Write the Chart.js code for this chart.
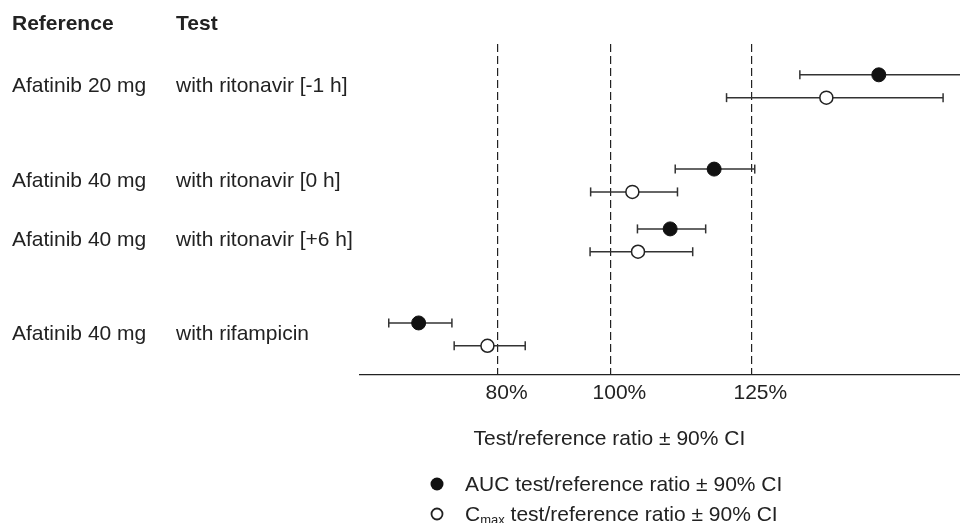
<!DOCTYPE html>
<html>
<head>
<meta charset="utf-8">
<script src="https://cdn.jsdelivr.net/npm/chart.js@4.4.1/dist/chart.umd.min.js"></script>
<style>
  body { margin: 0; background: #fff; }
  #wrap { width: 960px; height: 523px; }
</style>
</head>
<body>
<div id="wrap"><canvas id="chart" width="960" height="523"></canvas></div>
<script>
// values (percent, test/reference)
const refLabels = ['Afatinib 20 mg', 'Afatinib 40 mg', 'Afatinib 40 mg', 'Afatinib 40 mg'];
const testLabels = ['with ritonavir [-1 h]', 'with ritonavir [0 h]', 'with ritonavir [+6 h]', 'with rifampicin'];

const aucRatio = [147.6, 118.4, 110.6, 66.0];
const aucLower = [133.6, 111.5, 104.8, 60.7];
const aucUpper = [163.0, 125.6, 116.9, 71.9];

const cmaxRatio = [138.3, 103.9, 104.9, 78.2];
const cmaxLower = [120.6, 96.5, 96.4, 72.3];
const cmaxUpper = [159.0, 111.9, 114.6, 84.9];

const tickValues = [80, 100, 125];
const tickLabels = ['80%', '100%', '125%'];
const axisTitle = 'Test/reference ratio \u00b1 90% CI';

// vertical placement of the four comparisons (y axis units, top = 0)
const rowPos = [1.85, 5.98, 8.6, 12.72];
const pairGap = 0.5;

const FONT = "Arial, 'Liberation Sans', sans-serif";
const INK = '#222';

const datasets = [];

datasets.push({
  label: 'AUC',
  data: aucRatio.map((v, i) => ({x: v, y: rowPos[i] - pairGap})),
  pointRadius: 7,
  backgroundColor: '#111',
  borderColor: '#111',
  borderWidth: 1,
  order: 0
});
datasets.push({
  label: 'Cmax',
  data: cmaxRatio.map((v, i) => ({x: v, y: rowPos[i] + pairGap})),
  pointRadius: 6.5,
  backgroundColor: '#fff',
  borderColor: INK,
  borderWidth: 1.5,
  order: 0
});

function ciSet(lo, hi, y) {
  return {
    data: [{x: lo, y: y}, {x: hi, y: y}],
    showLine: true,
    borderColor: '#333',
    borderWidth: 1.5,
    pointStyle: 'line',
    pointRotation: 90,
    pointRadius: 4.5,
    pointBorderColor: '#333',
    pointBorderWidth: 1.5,
    order: 1
  };
}
for (let i = 0; i < rowPos.length; i++) {
  datasets.push(ciSet(aucLower[i], aucUpper[i], rowPos[i] - pairGap));
  datasets.push(ciSet(cmaxLower[i], cmaxUpper[i], rowPos[i] + pairGap));
}

const textPlugin = {
  id: 'forestText',
  afterDraw(chart) {
    const ctx = chart.ctx;
    const y = chart.scales.y;
    const x100 = chart.scales.x.getPixelForValue(100);
    ctx.save();
    ctx.fillStyle = INK;
    ctx.textBaseline = 'alphabetic';
    ctx.textAlign = 'left';

    ctx.font = 'bold 21px ' + FONT;
    ctx.fillText('Reference', 12, 30);
    ctx.fillText('Test', 176, 30);

    ctx.font = '21px ' + FONT;
    for (let i = 0; i < rowPos.length; i++) {
      const py = y.getPixelForValue(rowPos[i]) + 6;
      ctx.fillText(refLabels[i], 12, py);
      ctx.fillText(testLabels[i], 176, py);
    }

    // axis title, centred under the 100% line
    ctx.textAlign = 'center';
    ctx.fillText(axisTitle, x100 - 1, 445);
    ctx.textAlign = 'left';

    // legend
    ctx.beginPath();
    ctx.arc(437, 484, 6.5, 0, Math.PI * 2);
    ctx.fillStyle = '#111';
    ctx.fill();

    ctx.beginPath();
    ctx.arc(437, 514, 5.5, 0, Math.PI * 2);
    ctx.fillStyle = '#fff';
    ctx.fill();
    ctx.lineWidth = 1.8;
    ctx.strokeStyle = INK;
    ctx.stroke();

    ctx.fillStyle = INK;
    ctx.font = '21px ' + FONT;
    ctx.fillText('AUC test/reference ratio \u00b1 90% CI', 465, 491);
    ctx.fillText('C', 465, 521);
    let x = 465 + ctx.measureText('C').width;
    ctx.font = '13px ' + FONT;
    ctx.fillText('max', x, 524);
    x += ctx.measureText('max').width;
    ctx.font = '21px ' + FONT;
    ctx.fillText(' test/reference ratio \u00b1 90% CI', x, 521);
    ctx.restore();
  }
};

new Chart(document.getElementById('chart'), {
  type: 'scatter',
  data: {datasets: datasets},
  options: {
    responsive: false,
    animation: false,
    events: [],
    layout: {autoPadding: false, padding: {left: 360, top: 44, right: 0, bottom: 110.8}},
    plugins: {legend: {display: false}, tooltip: {enabled: false}},
    scales: {
      x: {
        type: 'linear',
        min: 55.6,
        max: 162,
        afterBuildTicks: (scale) => {
          scale.ticks = tickValues.map(v => ({value: v}));
        },
        ticks: {
          autoSkip: false,
          maxRotation: 0,
          padding: 6,
          labelOffset: 9,
          color: INK,
          font: {family: FONT, size: 21},
          callback: (value) => tickLabels[tickValues.indexOf(value)]
        },
        grid: {color: INK, lineWidth: 1.2, drawTicks: false},
        border: {display: true, color: INK, width: 1.3, dash: [8, 4]}
      },
      y: {
        type: 'linear',
        display: false,
        reverse: true,
        min: 0,
        max: 14.5
      }
    }
  },
  plugins: [textPlugin]
});
</script>
</body>
</html>
